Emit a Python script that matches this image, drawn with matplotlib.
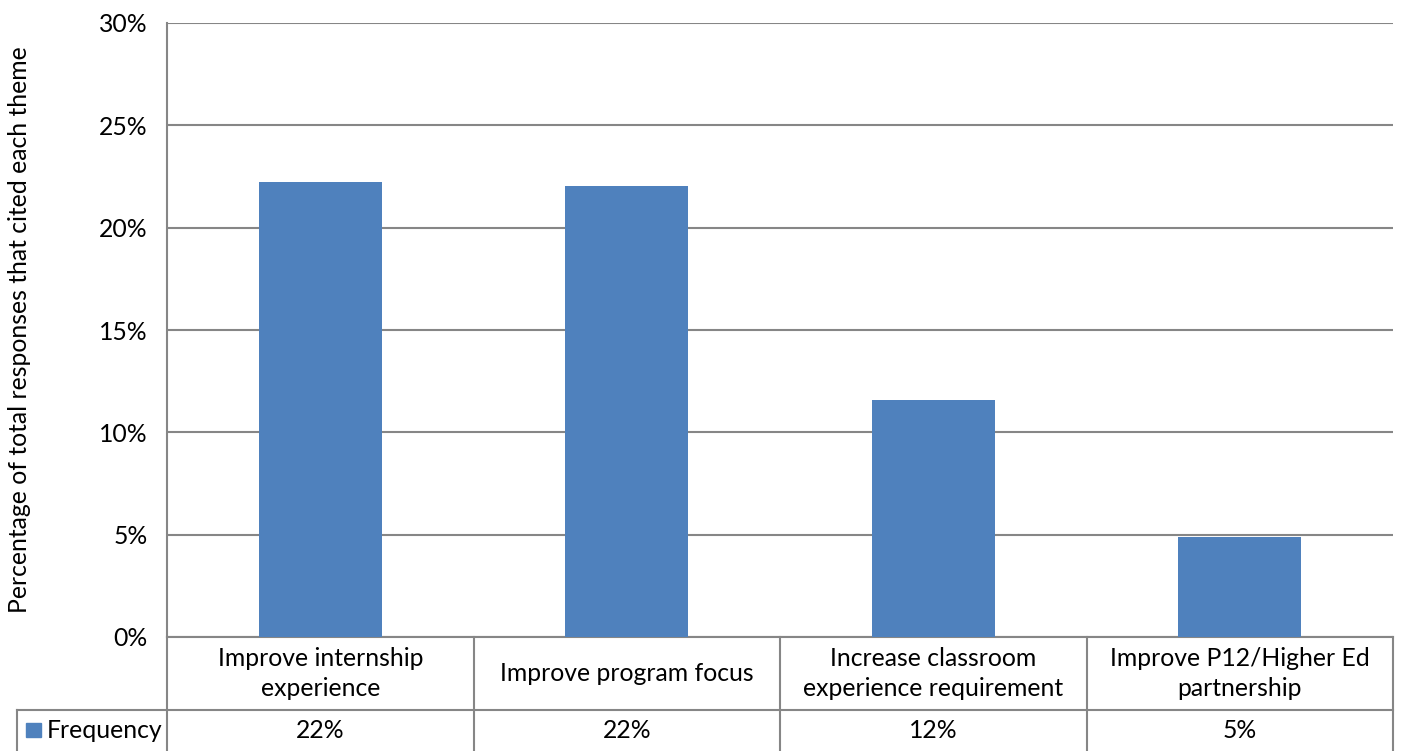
import matplotlib.pyplot as plt
from matplotlib.patches import Rectangle
from matplotlib.lines import Line2D

plt.rcParams['font.family'] = ['Lato', 'DejaVu Sans']

categories = ["Improve internship\nexperience", "Improve program focus",
              "Increase classroom\nexperience requirement", "Improve P12/Higher Ed\npartnership"]
values = [22.23, 22.04, 11.58, 4.89]
series_name = "Frequency"
yticks = [0, 5, 10, 15, 20, 25, 30]

bar_color = '#4F81BD'
line_color = '#868686'
fs = 17.8

fig = plt.figure(figsize=(14.01, 7.51), dpi=100)
W, H = 1401, 751
ax = fig.add_axes([167 / W, 1 - 637 / H, (1393 - 167) / W, (637 - 23) / H])

x = list(range(len(values)))
ax.bar(x, values, width=0.4, color=bar_color, zorder=3)
ax.set_xlim(-0.5, len(values) - 0.5)
ax.set_ylim(0, 30)
ax.set_yticks(yticks)
ax.set_yticklabels([f"{t}%" for t in yticks], fontsize=fs, color='black')
ax.tick_params(axis='y', length=0, pad=14)
ax.set_xticks([])
ax.yaxis.grid(True, color=line_color, linewidth=1.5, zorder=0)
for s in ['top', 'right', 'bottom']:
    ax.spines[s].set_visible(False)
ax.spines['left'].set_color(line_color)
ax.spines['left'].set_linewidth(1.5)
ax.set_ylabel("Percentage of total responses that cited each theme", fontsize=fs)
ax.yaxis.set_label_coords(-0.111, 0.5)

# data table below the axes (axes coordinates)
ah = 614.0
aw = 1226.0
r1 = -(710 - 637) / ah
r2 = -(751 - 637) / ah
left_col = (17 - 167) / aw
n = len(values)
tr = ax.transAxes
lkw = dict(color=line_color, linewidth=1.5, transform=tr, clip_on=False)
ax.add_line(Line2D([0, 1], [0, 0], **lkw))
ax.add_line(Line2D([left_col, 1], [r1, r1], **lkw))
ax.add_line(Line2D([0, 0], [0, r2], **lkw))
ax.add_line(Line2D([left_col, left_col], [r1, r2], **lkw))
for i in range(1, n + 1):
    xx = i / n
    ax.add_line(Line2D([xx, xx], [0, r2], **lkw))

for i, (c, v) in enumerate(zip(categories, values)):
    xc = (i + 0.5) / n
    ax.text(xc, r1 / 2, c, transform=tr, ha='center', va='center', fontsize=fs,
            linespacing=1.35, clip_on=False)
    ax.text(xc, (r1 + r2) / 2, f"{v:.0f}%", transform=tr, ha='center', va='center',
            fontsize=fs, clip_on=False)

ax.add_patch(Rectangle(((26 - 167) / aw, -(737 - 637) / ah), 15 / aw, 14 / ah,
                       transform=tr, color=bar_color, clip_on=False))
ax.text((47 - 167) / aw, (r1 + r2) / 2, series_name, transform=tr, ha='left', va='center',
        fontsize=fs, clip_on=False)

fig.savefig('out.png', dpi=100)
